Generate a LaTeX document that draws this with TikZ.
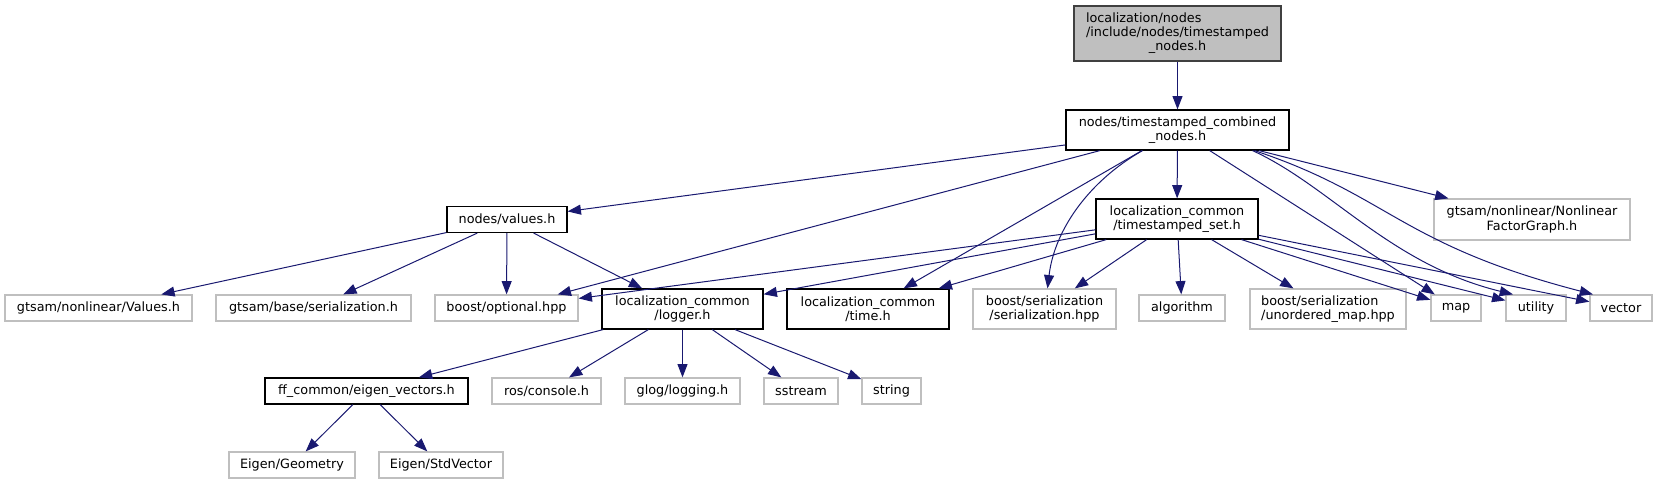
\documentclass[tikz,border=0pt]{standalone}
\usepackage{fontspec}
\setmainfont{DejaVu Sans}
\usepackage{xcolor}
\usetikzlibrary{arrows.meta,calc}
\definecolor{edgeblue}{RGB}{25,25,112}
\definecolor{extgray}{RGB}{191,191,191}

\begin{document}
\begin{tikzpicture}[
    x=0.75pt, y=-0.75pt,
    hdr/.style={draw=black, line width=0.9pt, fill=white, inner sep=0pt, align=center, font=\fontsize{9.6}{10.6}\selectfont},
    ext/.style={hdr, draw=extgray},
    root/.style={hdr, draw=black!75, fill=extgray},
    wh/.style 2 args={minimum width=#1*0.75pt, minimum height=#2*0.75pt},
    arr/.style={-{Triangle[length=10pt,width=7.5pt]}, line width=0.75pt, draw=edgeblue}
  ]
  \useasboundingbox (0,0) rectangle (1658,484);

  % rank 0 and 1
  \node[root, wh={207}{55}] (top) at (1177.5,33.5) {\begin{tabular}{@{}l@{}}localization/nodes\\/include/nodes/timestamped\\\multicolumn{1}{@{}c@{}}{\_nodes.h}\end{tabular}};
  \node[hdr, wh={223}{40}] (comb) at (1177.5,130) {nodes/timestamped\_combined\\\_nodes.h};

  % rank 2
  \node[hdr, wh={120}{26}] (values) at (507,219.5) {nodes/values.h};
  \node[hdr, wh={162}{40}] (tset) at (1177,219) {localization\_common\\/timestamped\_set.h};
  \node[ext, wh={196}{41}] (nlfg) at (1532,219.5) {gtsam/nonlinear/Nonlinear\\FactorGraph.h};

  % rank 3
  \node[ext, wh={187}{26}] (gvalues) at (98.5,308) {gtsam/nonlinear/Values.h};
  \node[ext, wh={195}{26}] (gser) at (313.5,308) {gtsam/base/serialization.h};
  \node[ext, wh={143}{26}] (opt) at (506.5,308) {boost/optional.hpp};
  \node[hdr, wh={161}{40}] (logger) at (682.5,309) {localization\_common\\/logger.h};
  \node[hdr, wh={162}{40}] (time) at (868,309) {localization\_common\\/time.h};
  \node[ext, wh={143}{40}] (bser) at (1044.5,309) {boost/serialization\\/serialization.hpp};
  \node[ext, wh={86}{26}] (algo) at (1182,308) {algorithm};
  \node[ext, wh={156}{40}, align=left] (umap) at (1328,309) {boost/serialization\\/unordered\_map.hpp};
  \node[ext, wh={50}{26}] (map) at (1456,308) {map};
  \node[ext, wh={60}{26}] (util) at (1536,308) {utility};
  \node[ext, wh={62}{26}] (vec) at (1621,308) {vector};

  % rank 4 and 5
  \node[hdr, wh={203}{26}] (eig) at (366.5,391) {ff\_common/eigen\_vectors.h};
  \node[ext, wh={109}{26}] (ros) at (546.5,391) {ros/console.h};
  \node[ext, wh={115}{26}] (glog) at (682.5,391) {glog/logging.h};
  \node[ext, wh={74}{26}] (sstr) at (801,391) {sstream};
  \node[ext, wh={59}{26}] (str) at (891.5,391) {string};
  \node[ext, wh={126}{26}] (geom) at (292,465) {Eigen/Geometry};
  \node[ext, wh={124}{26}] (stdv) at (441,465) {Eigen/StdVector};

  % includes of the root and of the combined header
  \draw[arr] (top) -- (comb);
  \draw[arr] (comb) -- (values);
  \draw[arr] (comb) -- (opt);
  \draw[arr] (comb) -- (tset);
  \draw[arr] (comb) -- (time);
  \draw[arr] ($(comb.south)+(-35,0)$) .. controls +(-53,30) and +(7,-59) .. ($(bser.north)+(3,0)$);
  \draw[arr] (comb) -- (map);
  \draw[arr] ($(comb.south)+(75,0)$) .. controls +(77,35) and +(-123,-30) .. ($(util.north)+(-23,0)$);
  \draw[arr] ($(comb.south)+(77,0)$) .. controls +(135,45) and +(-193,-50) .. ($(vec.north)+(-28,0)$);
  \draw[arr] (comb) -- (nlfg);

  % nodes/values.h
  \draw[arr] (values) -- (gvalues);
  \draw[arr] (values) -- (gser);
  \draw[arr] (values) -- (opt);
  \draw[arr] (values) -- (logger);

  % timestamped_set.h
  \draw[arr] (tset) -- (opt);
  \draw[arr] (tset) -- (logger);
  \draw[arr] (tset) -- (time);
  \draw[arr] (tset) -- (bser);
  \draw[arr] (tset) -- (algo);
  \draw[arr] (tset) -- (umap);
  \draw[arr] (tset) -- (map);
  \draw[arr] (tset) -- (util);
  \draw[arr] (tset) -- (vec);

  % logger.h and eigen_vectors.h
  \draw[arr] (logger) -- (eig);
  \draw[arr] (logger) -- (ros);
  \draw[arr] (logger) -- (glog);
  \draw[arr] (logger) -- (sstr);
  \draw[arr] (logger) -- (str);
  \draw[arr] (eig) -- (geom);
  \draw[arr] (eig) -- (stdv);
\end{tikzpicture}
\end{document}
